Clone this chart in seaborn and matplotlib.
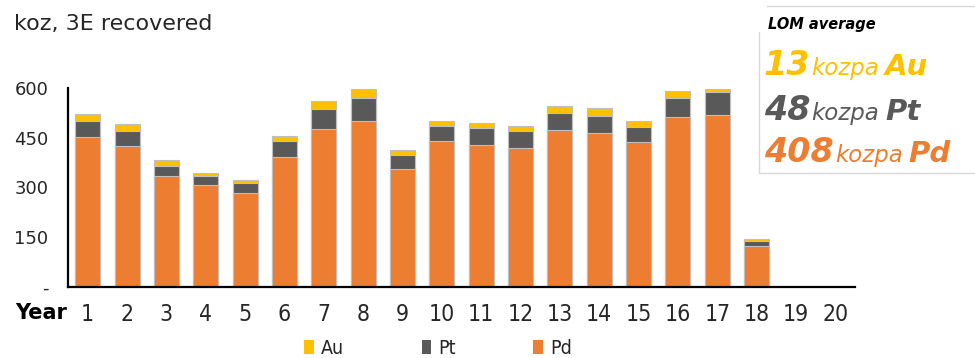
import matplotlib
matplotlib.use("Agg")
import matplotlib.pyplot as plt
from matplotlib.patches import Patch, Rectangle
from matplotlib import font_manager
import pandas as pd
import seaborn as sns

# Annual recovered ounces (koz) per metal
years = list(range(1, 21))
pd_koz = [452, 426, 335, 306, 284, 392, 477, 502, 357, 440, 429, 420, 474, 465, 437, 512, 518, 122, 0, 0]
pt_koz = [50, 44, 31, 28, 28, 48, 60, 70, 40, 46, 51, 51, 50, 52, 46, 60, 72, 16, 0, 0]
au_koz = [21, 21, 16, 11, 9, 15, 25, 27, 15, 15, 15, 14, 21, 22, 18, 21, 9, 5, 0, 0]

metals = ["Au", "Pt", "Pd"]
lom_avg = [13, 48, 408]
yticks = [0, 150, 300, 450, 600]
ytick_labels = ["-", "150", "300", "450", "600"]

colors = {"Au": "#FFC000", "Pt": "#595959", "Pd": "#ED7D31"}
TXT = "#262626"

# Pick a narrow face for the year and legend labels if one is available
narrow_files = [f.fname for f in font_manager.fontManager.ttflist
                if "narrow" in f.name.lower() or "condensed" in f.name.lower()
                or "condensed" in str(f.stretch).lower()]
NARROW_PROP = {"family": "DejaVu Sans", "stretch": "condensed"}
for f in font_manager.fontManager.ttflist:
    if f.name == "Liberation Sans Narrow" and f.weight in (400, "normal") and f.style == "normal":
        NARROW_PROP = {"fname": f.fname}
        break
narrow_font = font_manager.FontProperties(**NARROW_PROP)

df = pd.DataFrame({"Year": years, "Pd": pd_koz, "Pt": pt_koz, "Au": au_koz})
df["PdPt"] = df["Pd"] + df["Pt"]
df["Total"] = df["PdPt"] + df["Au"]

sns.set_theme(style="white")
plt.rcParams["font.family"] = ["DejaVu Sans"]

W, H = 975, 358
fig = plt.figure(figsize=(W / 100, H / 100), dpi=100)
ax = fig.add_axes([68 / W, 1 - 286.5 / H, (855 - 68) / W, (286.5 - 88.3) / H])

# Stacked bars: draw cumulative totals from the top layer down
for col, metal in [("Total", "Au"), ("PdPt", "Pt"), ("Pd", "Pd")]:
    sns.barplot(data=df, x="Year", y=col, order=years, color=colors[metal],
                saturation=1, width=0.635, errorbar=None,
                edgecolor="#BFBFBF", linewidth=0.8, ax=ax)

ax.set_ylim(0, 600)
ax.set_xlim(-0.5, len(years) - 0.5)
ax.set_yticks(yticks)
ax.set_yticklabels(ytick_labels, fontsize=13, color=TXT)
ax.set_xticks(range(len(years)))
xfont = narrow_font.copy()
xfont.set_size(16.5)
ax.set_xticklabels([str(y) for y in years], color=TXT, fontproperties=xfont)
ax.tick_params(axis="x", length=0, pad=12)
ax.tick_params(axis="y", length=0, pad=14)
ax.set_xlabel("")
ax.set_ylabel("")
for s in ["top", "right"]:
    ax.spines[s].set_visible(False)
for s in ["left", "bottom"]:
    ax.spines[s].set_color("black")
    ax.spines[s].set_linewidth(1.6)

fig.text(14 / W, 1 - 29.5 / H, "koz, 3E recovered", fontsize=16, color=TXT,
         va="baseline")
fig.text(15 / W, 1 - 319 / H, "Year", fontsize=15, fontweight="bold",
         color="black", va="baseline")

lfont = narrow_font.copy()
lfont.set_size(14)
handles = [Patch(facecolor=colors[m], edgecolor="none") for m in metals]
fig.legend(handles, metals, loc="center", bbox_to_anchor=(438 / W, 1 - 348 / H),
           ncol=3, frameon=False, handlelength=0.5, handleheight=0.7,
           handletextpad=0.35, columnspacing=4.0,
           prop=lfont, labelcolor=TXT)

# Life-of-mine average panel
fig.patches.append(Rectangle((759 / W, 1 - 173 / H), (W - 759) / W + 0.01,
                             (173 - 6) / H, transform=fig.transFigure,
                             facecolor="white", edgecolor="#D9D9D9", lw=1.0))
fig.patches.append(Rectangle((752 / W, 1 - 32 / H), 15 / W, 30 / H,
                             transform=fig.transFigure, facecolor="white",
                             edgecolor="none"))
fig.text(768 / W, 1 - 29.5 / H, "LOM average", fontsize=10.5,
         fontweight="bold", style="italic", color="black", va="baseline")

renderer = fig.canvas.get_renderer()


def write_line(x0, base, value, metal):
    c = colors[metal]
    parts = [(str(value), 24, "bold", 0),
             ("kozpa", 16.5, "light", 1),
             (metal, 21, "bold", 6)]
    x = x0
    for text, size, weight, gap in parts:
        x += gap
        t = fig.text(x / W, 1 - base / H, text, fontsize=size,
                     fontweight=weight, style="italic", color=c,
                     va="baseline", ha="left")
        x = t.get_window_extent(renderer=renderer).x1


for value, metal, base in zip(lom_avg, metals, [75, 120, 162]):
    write_line(764, base, value, metal)

fig.savefig("out.png", dpi=100)
